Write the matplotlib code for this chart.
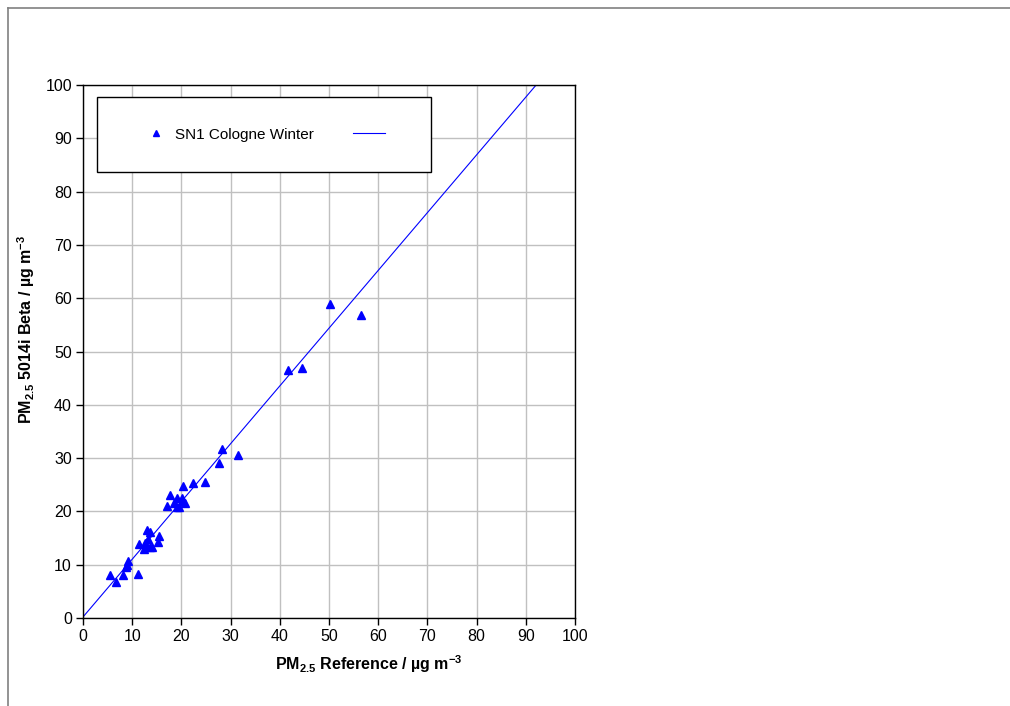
import numpy as np
import matplotlib
matplotlib.use('Agg')
import matplotlib.pyplot as plt
from matplotlib.lines import Line2D
from matplotlib.patches import Rectangle

plt.rcParams['font.family'] = ['Liberation Sans', 'DejaVu Sans']
plt.rcParams['mathtext.fontset'] = 'custom'
plt.rcParams['mathtext.rm'] = 'Liberation Sans:bold'
plt.rcParams['mathtext.bf'] = 'Liberation Sans:bold'

# reference vs beta values
ref = [5.5, 6.8, 8.1, 8.7, 9.0, 9.2, 11.2, 11.4, 12.3, 12.5, 12.8, 13.1, 13.3, 13.6, 13.6,
       14.1, 15.2, 15.5, 17.0, 17.7, 18.4, 19.2, 19.2, 19.6, 20.1, 20.4, 20.4, 20.7,
       22.4, 24.7, 27.6, 28.3, 31.4, 41.7, 44.6, 50.2, 56.5]
beta = [8.0, 6.8, 8.0, 9.6, 9.9, 10.7, 8.3, 13.9, 12.9, 14.1, 13.7, 16.5, 14.8, 16.1, 13.3,
        13.4, 14.3, 15.3, 21.0, 23.1, 21.5, 22.6, 20.9, 20.8, 22.5, 22.0, 24.8, 21.5,
        25.3, 25.6, 29.0, 31.7, 30.6, 46.5, 46.9, 58.9, 56.8]

fit_x = [0, 92.1]
fit_y = [0.2, 100]

fig = plt.figure(figsize=(10.1, 7.06), dpi=100)
ax = fig.add_axes([0.0822, 0.1246, 0.4871, 0.755])

ax.plot(ref, beta, linestyle='none', marker='^', ms=5.5, color='#0000ff', zorder=3)
ax.plot(fit_x, fit_y, color='#0000ff', lw=0.8, zorder=2)

ax.set_xlim(0, 100)
ax.set_ylim(0, 100)
ax.set_xticks(np.arange(0, 101, 10))
ax.set_yticks(np.arange(0, 101, 10))
ax.grid(True, color='#c0c0c0', lw=1)
ax.set_axisbelow(True)
ax.tick_params(direction='out', length=5, labelsize=11.5, width=1, pad=3)
for s in ax.spines.values():
    s.set_color('black')
    s.set_linewidth(1)

ax.set_xlabel('PM$_{\\mathrm{2.5}}$ Reference / µg m$^{\\mathrm{-3}}$',
              fontsize=11.5, fontweight='bold')
ax.set_ylabel('PM$_{\\mathrm{2.5}}$ 5014i Beta / µg m$^{\\mathrm{-3}}$',
              fontsize=11.5, fontweight='bold')
ax.xaxis.set_label_coords(0.581, -0.066)
ax.yaxis.set_label_coords(-0.094, 0.542)

# legend box
box = (0.0285, 0.837, 0.6785, 0.14)
ax.add_patch(Rectangle(box[:2], box[2], box[3], transform=ax.transAxes,
                       facecolor='white', edgecolor='black', lw=1, zorder=4))
h1 = Line2D([], [], linestyle='none', marker='^', ms=4, color='#0000ff')
h2 = Line2D([], [], color='#0000ff', lw=0.8)
leg = ax.legend([h1, h2], ['SN1 Cologne Winter', ''], loc='center',
                bbox_to_anchor=box, mode='expand', ncol=2, fontsize=11,
                frameon=False, borderaxespad=0, borderpad=2.8,
                handlelength=2.1, handletextpad=0.2, columnspacing=1)
leg.set_zorder(5)

# outer frame of the chart area
fig.add_artist(Line2D([8 / 1010, 1], [1 - 8 / 706, 1 - 8 / 706],
                      color='#808080', lw=1.2, transform=fig.transFigure))
fig.add_artist(Line2D([8 / 1010, 8 / 1010], [0, 1 - 8 / 706],
                      color='#808080', lw=1.2, transform=fig.transFigure))

fig.savefig('out.png', dpi=100)
